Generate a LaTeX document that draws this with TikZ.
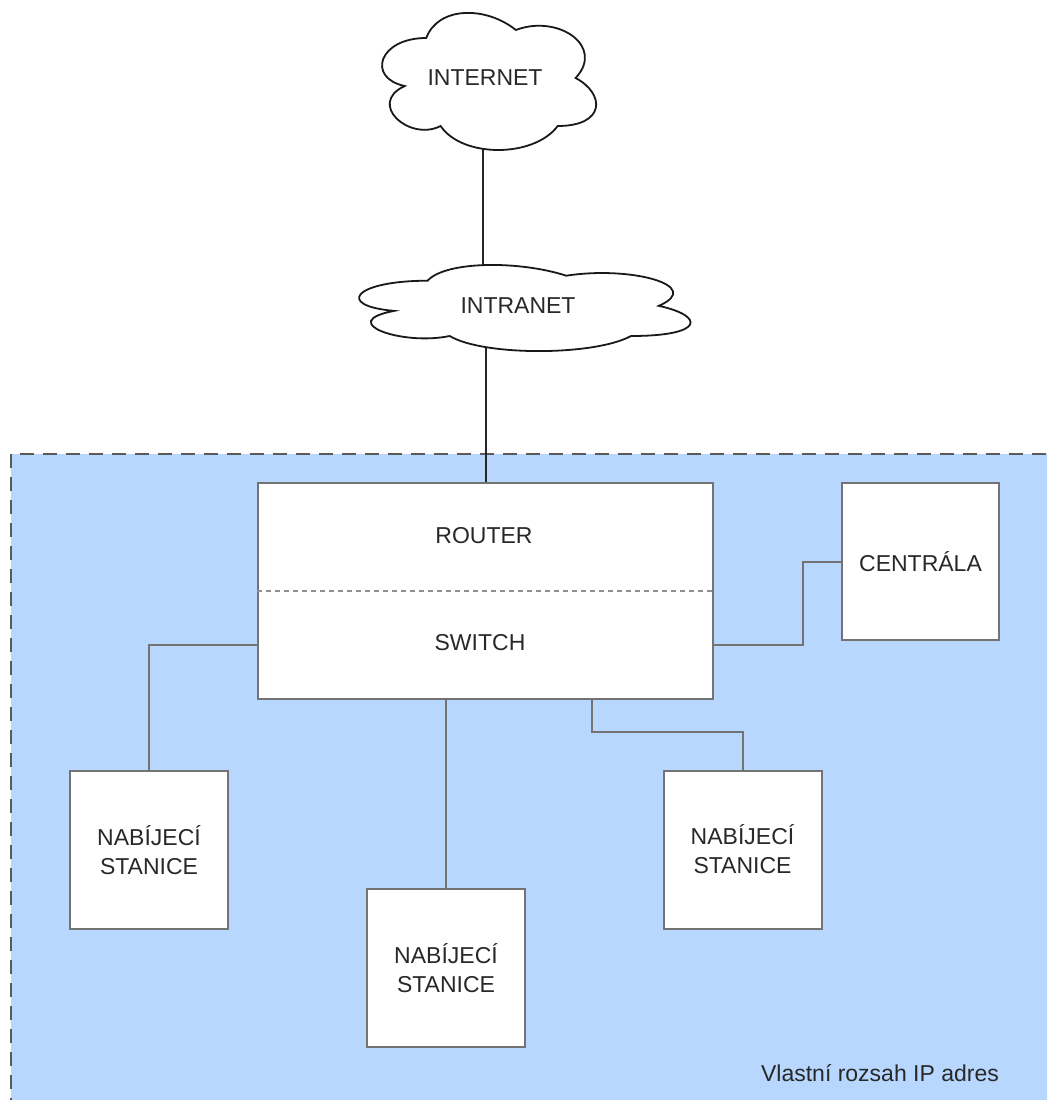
\documentclass[tikz,border=0pt]{standalone}
\usepackage{fontspec}
\setmainfont{Liberation Sans}
\definecolor{areablue}{RGB}{183,215,255}
\definecolor{boxgray}{RGB}{115,115,115}
\definecolor{dashgray}{RGB}{90,90,90}
\definecolor{txt}{RGB}{40,40,40}
\newcommand{\lbl}{\fontsize{23}{29}\selectfont}
\newcommand{\cloudshape}[4]{%
  \begin{scope}[shift={(#1,#2)}, xscale=#3, yscale=#4]
    \draw[cloudstyle] (0.25,0.25) .. controls (0.05,0.25) and (0,0.5) .. (0.16,0.55)
      .. controls (0,0.66) and (0.18,0.9) .. (0.31,0.8)
      .. controls (0.4,1) and (0.7,1) .. (0.8,0.8)
      .. controls (1,0.8) and (1,0.6) .. (0.875,0.5)
      .. controls (1,0.3) and (0.8,0.1) .. (0.625,0.2)
      .. controls (0.5,0.05) and (0.3,0.05) .. (0.25,0.25) -- cycle;
  \end{scope}}
\tikzset{
  cloudstyle/.style={draw=black!90, fill=white, line width=1.8pt},
  cloudline/.style={draw=black!85, line width=2pt},
  conn/.style={draw=boxgray, line width=2pt},
  devbox/.style={draw=boxgray, fill=white, line width=2pt, inner sep=0pt,
    minimum width=158pt, minimum height=158pt, align=center, font=\lbl, text=txt},
  lbltext/.style={font=\lbl, text=txt, inner sep=0pt, align=center},
  area/.style={draw=dashgray, fill=areablue, line width=2pt, dash pattern=on 14pt off 9pt},
}
\begin{document}
\begin{tikzpicture}[x=1pt, y=-1pt]
  \useasboundingbox (0,0) rectangle (1047,1100);
  \clip (0,0) rectangle (1047,1100);
  % container
  \path[area] (11,454) rectangle (1070,1120);
  % boxes (nodes placed first for naming)
  \node[devbox, minimum width=455pt, minimum height=216pt] (router) at (485.5,591) {};
  \node[devbox, minimum width=157pt, minimum height=157pt] (centrala) at (920.5,561.5) {CENTRÁLA};
  \node[devbox] (st1) at (149,850) {NABÍJECÍ\\STANICE};
  \node[devbox] (st2) at (446,968) {NABÍJECÍ\\STANICE};
  \node[devbox] (st3) at (742.5,849.5) {NABÍJECÍ\\STANICE};
  % dashed divider
  \draw[draw=boxgray!80, line width=1.3pt, dash pattern=on 5pt off 4pt] (router.west) -- (router.east);
  \node[lbltext] (routerlbl) at (484,536) {ROUTER};
  \node[lbltext] (switchlbl) at (480,643) {SWITCH};
  % connectors from switch
  \draw[conn] ([yshift=-54pt]router.east) -- ++(89,0) |- (centrala.west);
  \draw[conn] ([yshift=-54pt]router.west) -| (st1.north);
  \draw[conn] (router.south -| st2.north) -- (st2.north);
  \draw[conn] ([xshift=106.5pt]router.south) -- ++(0,32) -| (st3.north);
  % cloud connectors
  \coordinate (inetB) at (483,146);
  \coordinate (intraT) at (483,268);
  \coordinate (intraB) at (486,345);
  \draw[cloudline] (inetB) -- (intraT);
  \draw[cloudline] (intraB) -- (router.north -| intraB);
  % clouds
  \cloudshape{366.5}{-2}{239}{160}
  \cloudshape{335}{255.6}{370}{100.5}
  \node[lbltext] (internet) at (485,78) {INTERNET};
  \node[lbltext] (intranet) at (518,306) {INTRANET};
  % area label
  \node[lbltext] (arealbl) at (880,1073) {Vlastní rozsah IP adres};
\end{tikzpicture}
\end{document}
